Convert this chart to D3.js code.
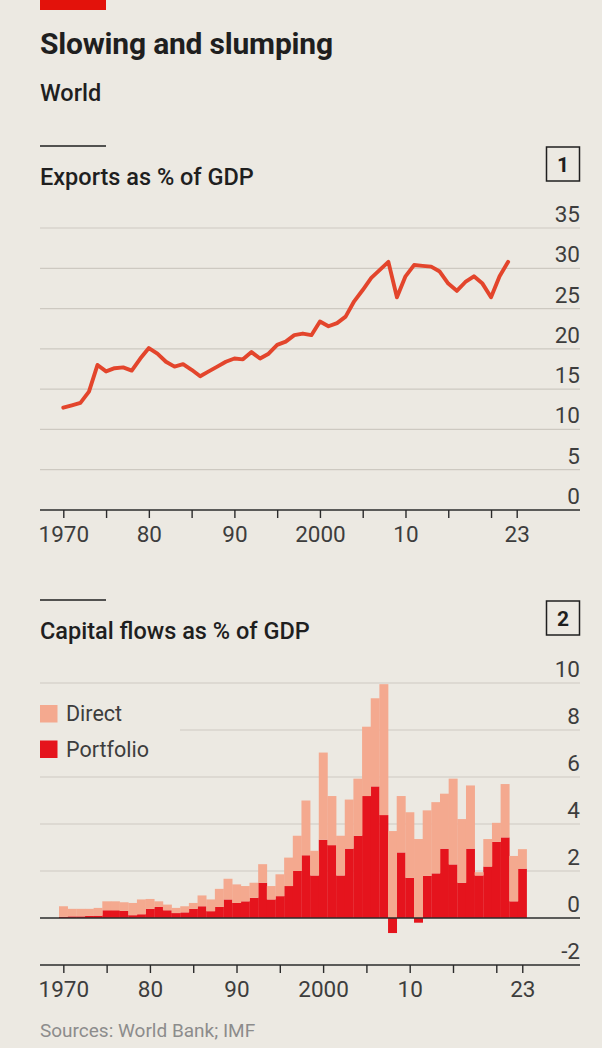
<!DOCTYPE html>
<html>
<head>
<meta charset="utf-8">
<script src="https://cdn.jsdelivr.net/npm/d3@7"></script>
<style>
  html, body { margin: 0; padding: 0; background: #ECE9E2; }
  svg { display: block; font-family: Roboto, "Liberation Sans", Arial, sans-serif; }
</style>
</head>
<body>
<svg id="chart" width="602" height="1048"></svg>
<script>
// ---- Data -------------------------------------------------------------
// Panel 1: world exports as % of GDP, 1970-2022
const exportYears = [1970,1971,1972,1973,1974,1975,1976,1977,1978,1979,
  1980,1981,1982,1983,1984,1985,1986,1987,1988,1989,
  1990,1991,1992,1993,1994,1995,1996,1997,1998,1999,
  2000,2001,2002,2003,2004,2005,2006,2007,2008,2009,
  2010,2011,2012,2013,2014,2015,2016,2017,2018,2019,
  2020,2021,2022];
const exportsPct = [12.7,13.0,13.3,14.7,18.0,17.2,17.6,17.7,17.3,18.8,
  20.1,19.4,18.4,17.8,18.1,17.4,16.6,17.2,17.8,18.4,
  18.8,18.7,19.6,18.8,19.4,20.5,20.9,21.7,21.9,21.7,
  23.4,22.8,23.2,24.0,25.9,27.3,28.8,29.8,30.8,26.4,
  29.0,30.4,30.3,30.2,29.6,28.1,27.2,28.3,29.0,28.1,
  26.4,29.0,30.8];

// Panel 2: capital flows as % of GDP, 1970-2023
const flowYears = [1970,1971,1972,1973,1974,1975,1976,1977,1978,1979,
  1980,1981,1982,1983,1984,1985,1986,1987,1988,1989,
  1990,1991,1992,1993,1994,1995,1996,1997,1998,1999,
  2000,2001,2002,2003,2004,2005,2006,2007,2008,2009,
  2010,2011,2012,2013,2014,2015,2016,2017,2018,2019,
  2020,2021,2022,2023];
const portfolioFlows = [0.05,0.07,0.07,0.09,0.10,0.33,0.33,0.30,0.12,0.16,
  0.39,0.47,0.33,0.21,0.24,0.39,0.50,0.29,0.47,0.79,
  0.64,0.71,0.86,1.50,0.79,0.93,1.36,2.00,2.67,1.81,
  3.33,3.10,1.81,2.95,3.50,5.19,5.60,4.38,-0.64,2.79,
  1.71,-0.20,1.79,1.90,2.95,2.28,1.50,2.95,1.81,2.19,
  3.24,3.43,0.71,2.10];
const directFlows = [0.45,0.32,0.32,0.30,0.33,0.38,0.38,0.37,0.52,0.63,
  0.42,0.24,0.24,0.22,0.26,0.25,0.46,0.50,0.77,0.88,
  0.79,0.65,0.64,0.79,0.57,0.93,1.21,1.50,2.33,1.05,
  3.71,2.09,1.69,2.09,2.43,2.95,3.75,5.57,3.70,2.40,
  2.79,3.36,2.79,3.03,2.34,3.65,2.71,2.69,0.14,1.17,
  0.81,2.27,1.93,0.83];

// Axis ticks and labels
const exportTicks = [0,5,10,15,20,25,30,35];
const flowTicks = [-2,0,2,4,6,8,10];
const yearTicks = [1970,1975,1980,1985,1990,1995,2000,2005,2010,2015,2020,2023];
const yearLabels = {1970:"1970",1980:"80",1990:"90",2000:"2000",2010:"10",2023:"23"};
const seriesNames = ["Direct","Portfolio"];

// ---- Styling ----------------------------------------------------------
const C = {
  ink: "#1f1f1f",
  label: "#3d3d3d",
  grid: "#cdc9c1",
  axis: "#2b2b2b",
  line: "#E3452C",
  direct: "#F4A98F",
  portfolio: "#E5141D",
  redTag: "#E3120B",
  source: "#8c8c8c"
};
const L = 40, R = 580;

const svg = d3.select("#chart");

// Header
svg.append("rect").attr("x", L).attr("y", 0).attr("width", 66).attr("height", 10).attr("fill", C.redTag);
svg.append("text").attr("x", L).attr("y", 54).attr("fill", C.ink)
  .attr("font-size", 30).attr("font-weight", 700).attr("letter-spacing", -0.2)
  .text("Slowing and slumping");
svg.append("text").attr("x", L).attr("y", 101).attr("fill", C.ink)
  .attr("font-size", 23.5).attr("font-weight", 500).text("World");

function panelHeader(top, title, num) {
  svg.append("line").attr("x1", L).attr("x2", L + 66).attr("y1", top).attr("y2", top)
    .attr("stroke", C.ink).attr("stroke-width", 1.5);
  svg.append("text").attr("x", L).attr("y", top + 39).attr("fill", C.ink)
    .attr("font-size", 23.5).attr("font-weight", 500).text(title);
  svg.append("rect").attr("x", R - 33.5).attr("y", top + 1).attr("width", 33).attr("height", 34)
    .attr("fill", "none").attr("stroke", C.ink).attr("stroke-width", 1.5);
  svg.append("text").attr("x", R - 17).attr("y", top + 26).attr("text-anchor", "middle")
    .attr("fill", C.ink).attr("font-size", 21).attr("font-weight", 700).text(num);
}

// ---- Panel 1: line ----------------------------------------------------
panelHeader(146, "Exports as % of GDP", "1");

const x1 = d3.scaleLinear().domain([1970, 2023]).range([63.3, 516.7]);
const y1 = d3.scaleLinear().domain([0, 35]).range([510, 228]);

const g1 = svg.append("g");
g1.selectAll("line.grid").data(exportTicks.filter(t => t !== 0)).join("line")
  .attr("class", "grid").attr("x1", L).attr("x2", R)
  .attr("y1", d => y1(d)).attr("y2", d => y1(d))
  .attr("stroke", C.grid).attr("stroke-width", 1.2);
g1.selectAll("text.ylab").data(exportTicks).join("text")
  .attr("class", "ylab").attr("x", R).attr("y", d => y1(d) - 6)
  .attr("text-anchor", "end").attr("fill", C.label).attr("font-size", 22.5)
  .text(d => d);

const line = d3.line().x((d, i) => x1(exportYears[i])).y(d => y1(d)).curve(d3.curveLinear);
g1.append("path").datum(exportsPct).attr("d", line)
  .attr("fill", "none").attr("stroke", C.line).attr("stroke-width", 3.9)
  .attr("stroke-linejoin", "round").attr("stroke-linecap", "round");

function yearAxis(g, scale, yPos) {
  const ax = d3.axisBottom(scale).tickValues(yearTicks).tickSize(8)
    .tickFormat(d => yearLabels[d] || "");
  const a = g.append("g").attr("transform", `translate(0,${yPos})`).call(ax);
  a.select(".domain").remove();
  a.selectAll(".tick line").attr("stroke", C.axis).attr("stroke-width", 1.4);
  a.selectAll(".tick text").attr("fill", C.label).attr("font-size", 22.5)
    .attr("font-family", "Roboto, 'Liberation Sans', Arial, sans-serif").attr("dy", "1.05em").attr("y", 8);
  g.append("line").attr("x1", L).attr("x2", R).attr("y1", yPos).attr("y2", yPos)
    .attr("stroke", C.axis).attr("stroke-width", 1.6);
}
yearAxis(g1, x1, 510);

// ---- Panel 2: stacked bars --------------------------------------------
panelHeader(600, "Capital flows as % of GDP", "2");

const xb = d3.scaleBand().domain(flowYears).range([59, 526.6]).paddingInner(0);
const y2 = d3.scaleLinear().domain([-2, 10]).range([965, 683]);

const g2 = svg.append("g");
g2.selectAll("line.grid").data(flowTicks.filter(t => t > 0)).join("line")
  .attr("class", "grid").attr("x1", d => d === 8 ? 180 : L).attr("x2", R)
  .attr("y1", d => y2(d)).attr("y2", d => y2(d))
  .attr("stroke", C.grid).attr("stroke-width", 1.2);
g2.selectAll("text.ylab").data(flowTicks).join("text")
  .attr("class", "ylab").attr("x", R).attr("y", d => y2(d) - 6)
  .attr("text-anchor", "end").attr("fill", C.label).attr("font-size", 22.5)
  .text(d => d);

const rows = flowYears.map((yr, i) => ({ year: yr, portfolio: portfolioFlows[i], direct: directFlows[i] }));
const stacked = d3.stack().keys(["portfolio", "direct"]).offset(d3.stackOffsetDiverging)(rows);
const fills = { portfolio: C.portfolio, direct: C.direct };

g2.selectAll("g.layer").data(stacked).join("g")
  .attr("class", "layer").attr("fill", d => fills[d.key])
  .selectAll("rect").data(d => d).join("rect")
  .attr("x", d => xb(d.data.year))
  .attr("width", xb.bandwidth() + 0.3)
  .attr("y", d => y2(Math.max(d[0], d[1])))
  .attr("height", d => Math.abs(y2(d[0]) - y2(d[1])));

// zero line
g2.append("line").attr("x1", L).attr("x2", R).attr("y1", y2(0)).attr("y2", y2(0))
  .attr("stroke", C.axis).attr("stroke-width", 1.6);

const xbc = d3.scaleLinear().domain([1970, 2023])
  .range([xb(1970) + xb.bandwidth() / 2, xb(2023) + xb.bandwidth() / 2]);
yearAxis(g2, xbc, y2(-2));

// Legend
const legend = g2.append("g");
const legendColors = [C.direct, C.portfolio];
seriesNames.forEach((name, i) => {
  const top = 705 + i * 35.5;
  legend.append("rect").attr("x", L).attr("y", top).attr("width", 17.5).attr("height", 17.5)
    .attr("fill", legendColors[i]);
  legend.append("text").attr("x", L + 26).attr("y", top + 16).attr("fill", C.label)
    .attr("font-size", 21.5).text(name);
});

// Source
svg.append("text").attr("x", L).attr("y", 1037).attr("fill", C.source)
  .attr("font-size", 19).text("Sources: World Bank; IMF");
</script>
</body>
</html>
